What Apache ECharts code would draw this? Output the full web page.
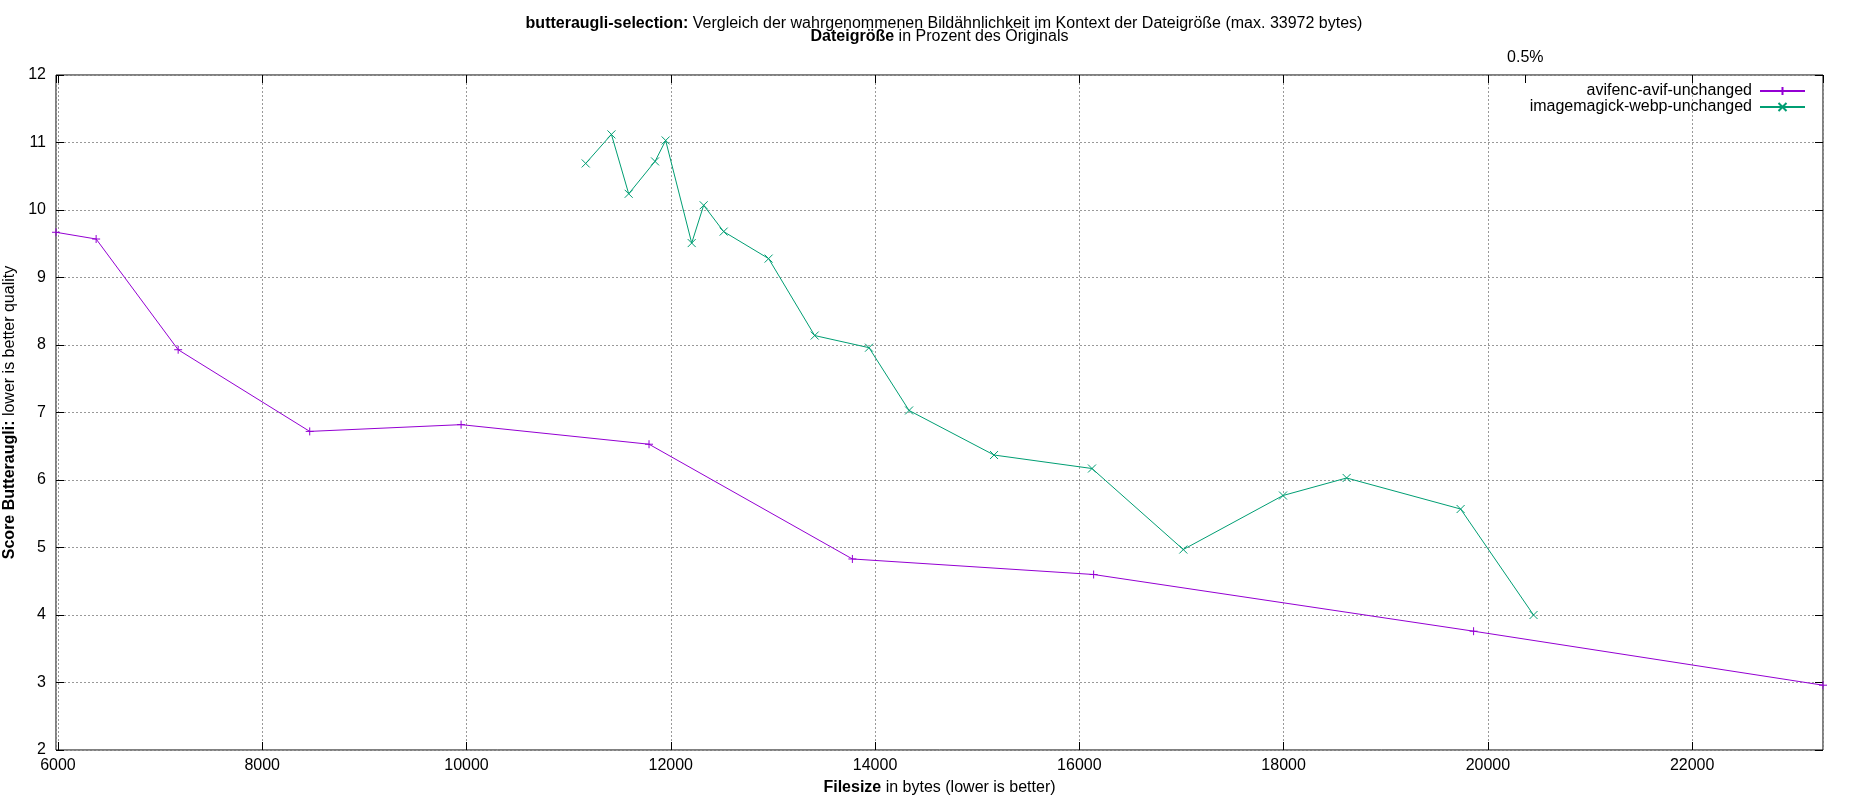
<!DOCTYPE html>
<html>
<head>
<meta charset="utf-8">
<script src="https://cdn.jsdelivr.net/npm/echarts@6/dist/echarts.min.js"></script>
<style>
  html, body { margin: 0; padding: 0; background: #fff; }
  #chart { width: 1850px; height: 800px; }
</style>
</head>
<body>
<div id="chart"></div>
<script>
// Messwerte (Dateigröße in bytes, Score Butteraugli)
var avifSize = [5981, 6374, 7177, 8465, 9947, 11787, 13778, 16140, 19860, 23281];
var avifScore = [9.67, 9.57, 7.93, 6.72, 6.82, 6.53, 4.83, 4.60, 3.76, 2.96];

var webpSize = [11167, 11419, 11588, 11846, 11950, 12205, 12322, 12518, 12958, 13409,
    13941, 14333, 15165, 16124, 17018, 17994, 18617, 19733, 20447];
var webpScore = [10.69, 11.12, 10.24, 10.72, 11.03, 9.51, 10.07, 9.68, 9.28, 8.14,
    7.96, 7.03, 6.37, 6.17, 4.97, 5.77, 6.03, 5.57, 4.00];

var seriesNames = ['avifenc-avif-unchanged', 'imagemagick-webp-unchanged'];
var seriesColors = ['#9400d3', '#009e73'];

// obere Achse: Prozent des Originals
var x2TickValues = [20366];
var x2TickLabels = ['0.5%'];

var xMin = 5981, xMax = 23281;

function pairs(xs, ys) {
    var out = [];
    for (var i = 0; i < xs.length; i++) out.push([xs[i], ys[i]]);
    return out;
}

var FONT = '"Liberation Sans", Arial, sans-serif';
var FS = 16;
var plusSym = 'path://M0,5L10,5M5,0L5,10';
var crossSym = 'path://M0,0L10,10M10,0L0,10';

var chart = echarts.init(document.getElementById('chart'));

function lineSeries(idx, data, sym) {
    return {
        name: seriesNames[idx],
        type: 'line',
        data: data,
        symbol: sym,
        symbolSize: 8,
        showAllSymbol: true,
        animation: false,
        color: seriesColors[idx],
        lineStyle: { color: seriesColors[idx], width: 1 },
        itemStyle: { color: 'rgba(0,0,0,0)', borderColor: seriesColors[idx], borderWidth: 1 },
        emphasis: { disabled: true },
        xAxisIndex: 0,
        yAxisIndex: 0
    };
}

function richName() {
    return {
        fontSize: FS, color: '#000', fontFamily: FONT,
        rich: { b: { fontSize: FS, fontWeight: 'bold', color: '#000', fontFamily: FONT } }
    };
}

var option = {
    backgroundColor: '#fff',
    textStyle: { fontFamily: FONT },
    title: {
        text: '{b|butteraugli-selection:} Vergleich der wahrgenommenen Bildähnlichkeit im Kontext der Dateigröße (max. 33972 bytes)',
        left: 939,
        top: 11,
        textAlign: 'center',
        textStyle: {
            fontSize: FS, fontWeight: 'normal', color: '#000', fontFamily: FONT,
            rich: { b: { fontSize: FS, fontWeight: 'bold', color: '#000', fontFamily: FONT } }
        }
    },
    legend: {
        orient: 'vertical',
        right: 39,
        top: 78,
        align: 'right',
        itemWidth: 45,
        itemHeight: 10,
        itemGap: 0,
        textStyle: { fontSize: FS, lineHeight: 14, color: '#000', fontFamily: FONT, padding: [0, 3, 0, 0] },
        data: seriesNames
    },
    grid: {
        left: 56, right: 27, top: 75, bottom: 50,
        outerBoundsMode: 'none',
        show: true, borderColor: '#000', borderWidth: 1, backgroundColor: 'transparent'
    },
    xAxis: [
        {
            type: 'value', position: 'bottom', min: xMin, max: xMax, splitNumber: 9,
            name: '{b|Filesize} in bytes (lower is better)',
            nameLocation: 'middle', nameGap: 30,
            nameTextStyle: richName(),
            axisLine: { show: false },
            axisTick: { show: true, inside: true, length: 8, lineStyle: { color: '#000' } },
            axisLabel: {
                fontSize: FS, color: '#000', margin: 8, showMinLabel: false, showMaxLabel: false, fontFamily: FONT,
                formatter: function (v) { return String(v); }
            },
            splitLine: { show: true, lineStyle: { color: '#999', type: [2, 2], width: 1 } }
        },
        {
            type: 'value', position: 'top', min: xMin, max: xMax, splitNumber: 9,
            axisLine: { show: false },
            axisTick: { show: true, inside: true, length: 8, lineStyle: { color: '#000' } },
            axisLabel: { show: false },
            splitLine: { show: false }
        },
        {
            type: 'value', position: 'top', min: xMin, max: xMax,
            name: '{b|Dateigröße} in Prozent des Originals',
            nameLocation: 'middle', nameGap: 30,
            nameTextStyle: richName(),
            axisLine: { show: false },
            axisTick: { show: true, inside: true, length: 8, customValues: x2TickValues, lineStyle: { color: '#000' } },
            axisLabel: {
                show: true, fontSize: FS, color: '#000', margin: 9, fontFamily: FONT,
                customValues: x2TickValues,
                formatter: function (v) {
                    var i = x2TickValues.indexOf(v);
                    return i >= 0 ? x2TickLabels[i] : '';
                }
            },
            splitLine: { show: false }
        }
    ],
    yAxis: [
        {
            type: 'value', position: 'left', min: 2, max: 12, interval: 1,
            name: '{b|Score Butteraugli:} lower is better quality',
            nameLocation: 'middle', nameGap: 33, nameRotate: 90,
            nameTextStyle: richName(),
            axisLine: { show: false },
            axisTick: { show: true, inside: true, length: 8, lineStyle: { color: '#000' } },
            axisLabel: { fontSize: FS, color: '#000', margin: 10, fontFamily: FONT },
            splitLine: { show: true, lineStyle: { color: '#999', type: [2, 2], width: 1 } }
        },
        {
            type: 'value', position: 'right', min: 2, max: 12, interval: 1,
            axisLine: { show: false },
            axisTick: { show: true, inside: true, length: 8, lineStyle: { color: '#000' } },
            axisLabel: { show: false },
            splitLine: { show: false }
        }
    ],
    series: [
        lineSeries(0, pairs(avifSize, avifScore), plusSym),
        lineSeries(1, pairs(webpSize, webpScore), crossSym)
    ]
};

chart.setOption(option);
</script>
</body>
</html>
